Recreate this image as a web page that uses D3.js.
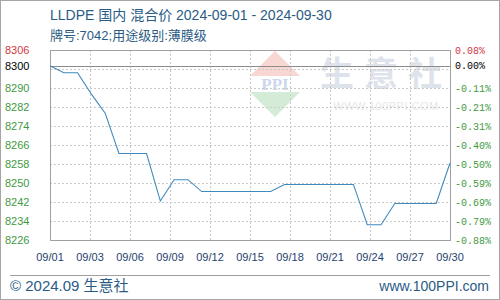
<!DOCTYPE html>
<html>
<head>
<meta charset="utf-8">
<script src="https://cdn.jsdelivr.net/npm/d3@7"></script>
<style>
  html, body { margin: 0; padding: 0; background: #fff; }
  svg { display: block; }
</style>
</head>
<body>
<div id="chart"></div>
<script>
// daily LLDPE price, 2024-09-01 .. 2024-09-30
const days = ['09/01','09/02','09/03','09/04','09/05','09/06','09/07','09/08','09/09','09/10',
  '09/11','09/12','09/13','09/14','09/15','09/16','09/17','09/18','09/19','09/20',
  '09/21','09/22','09/23','09/24','09/25','09/26','09/27','09/28','09/29','09/30'];
const prices = [8300, 8297, 8297, 8288, 8280, 8263, 8263, 8263, 8243, 8252,
  8252, 8247, 8247, 8247, 8247, 8247, 8247, 8250, 8250, 8250,
  8250, 8250, 8250, 8233, 8233, 8242, 8242, 8242, 8242, 8259];

const basePrice = 8300;
const xTickLabels = ['09/01','09/03','09/06','09/09','09/12','09/15','09/18','09/21','09/24','09/27','09/30'];
const yGridValues = [8298.6, 8290.6, 8282.6, 8274.6, 8266.6, 8258.6, 8250.6, 8242.6, 8234.6];
const leftTickValues = [8306.6, 8300, 8290.6, 8282.6, 8274.6, 8266.6, 8258.6, 8250.6, 8242.6, 8234.6, 8226.6];
const leftTickLabels = ['8306','8300','8290','8282','8274','8266','8258','8250','8242','8234','8226'];
const rightTickLabels = ['0.08%','0.00%','-0.11%','-0.21%','-0.31%','-0.40%','-0.50%','-0.59%','-0.69%','-0.79%','-0.88%'];

const width = 500, height = 300;
const pLeft = 50, pRight = 450, pTop = 50, pBottom = 240;

const svg = d3.select('#chart').append('svg').attr('width', width).attr('height', height);
const latin = '"Liberation Sans", "Noto Sans CJK SC", sans-serif';

svg.append('rect').attr('x', 0.5).attr('y', 0.5).attr('width', width - 1).attr('height', height - 1)
  .attr('fill', '#fff').attr('stroke', '#a6a6a6');

const x = d3.scalePoint().domain(days).range([pLeft, pRight]);
const xt = d3.scalePoint().domain(xTickLabels).range([pLeft, pRight]);
const y = d3.scaleLinear().domain([8226.6, 8306.6]).range([pBottom, pTop]);

// titles
svg.append('text').attr('x', 50).attr('y', 20)
  .style('font-family', latin).style('font-size', '14px').attr('fill', '#2a5b85')
  .text('LLDPE 国内 混合价 2024-09-01 - 2024-09-30');
svg.append('text').attr('x', 50).attr('y', 40)
  .style('font-family', latin).style('font-size', '13px').attr('fill', '#2a5b85')
  .text('牌号:7042;用途级别:薄膜级');

// --- watermark ---
const wm = svg.append('g').attr('opacity', 0.45);
wm.append('path').attr('d', 'M275,51 L300,76 L250,76 Z').attr('fill', '#f0a79c');
wm.append('path').attr('d', 'M250,92 L300,92 L275,117 Z').attr('fill', '#9fd3a8');
wm.append('text').attr('x', 275).attr('y', 90).attr('text-anchor', 'middle')
  .style('font-family', '"Liberation Serif", serif').style('font-size', '17px').style('font-weight', 'bold')
  .attr('fill', '#8fa7d8').text('PPI');
wm.append('text').attr('x', 386).attr('y', 86).attr('text-anchor', 'middle')
  .style('font-family', '"Noto Sans CJK SC", sans-serif').style('font-size', '34px').style('font-weight', 'bold')
  .style('letter-spacing', '10px').attr('fill', '#b8c3d3').text('生意社');
wm.append('text').attr('x', 386).attr('y', 110).attr('text-anchor', 'middle')
  .style('font-family', latin).style('font-size', '11px').style('letter-spacing', '0.5px')
  .attr('fill', '#c8c8c8').text('WWW.100PPI.COM');

// grid
svg.append('g').selectAll('line').data(yGridValues).enter().append('line')
  .attr('x1', pLeft).attr('x2', pRight)
  .attr('y1', d => Math.round(y(d)) + 0.5).attr('y2', d => Math.round(y(d)) + 0.5)
  .attr('stroke', '#c8c8c8').attr('stroke-dasharray', '2,2');
svg.append('g').selectAll('line').data(xTickLabels.slice(1, -1)).enter().append('line')
  .attr('x1', d => Math.round(xt(d)) + 0.5).attr('x2', d => Math.round(xt(d)) + 0.5)
  .attr('y1', pTop).attr('y2', pBottom)
  .attr('stroke', '#c8c8c8').attr('stroke-dasharray', '2,2');

// frame + base line
svg.append('rect').attr('x', pLeft + 0.5).attr('y', pTop + 0.5).attr('width', pRight - pLeft).attr('height', pBottom - pTop)
  .attr('fill', 'none').attr('stroke', '#a0a0a0');
svg.append('line').attr('x1', pLeft).attr('x2', pRight)
  .attr('y1', Math.round(y(basePrice)) + 0.5).attr('y2', Math.round(y(basePrice)) + 0.5)
  .attr('stroke', '#8c8c8c');

// price line
const line = d3.line().x((d, i) => x(days[i])).y(d => y(d));
svg.append('path').datum(prices).attr('d', line)
  .attr('fill', 'none').attr('stroke', '#3f8abf').attr('stroke-width', 1.1);

// left axis labels
svg.append('g').selectAll('text').data(leftTickValues).enter().append('text')
  .attr('x', 5).attr('y', d => y(d)).attr('dy', '0.35em')
  .style('font-family', latin).style('font-size', '11px')
  .attr('fill', (d, i) => i === 0 ? '#d2393f' : i === 1 ? '#000' : '#3f9a3f')
  .text((d, i) => leftTickLabels[i]);

// right axis labels
svg.append('g').selectAll('text').data(leftTickValues).enter().append('text')
  .attr('x', 455).attr('y', d => y(d)).attr('dy', '0.35em')
  .style('font-family', '"Liberation Mono", monospace').style('font-size', '10px')
  .attr('fill', (d, i) => i === 0 ? '#d2393f' : i === 1 ? '#000' : '#3f9a3f')
  .text((d, i) => rightTickLabels[i]);

// x axis labels
svg.append('g').selectAll('text').data(xTickLabels).enter().append('text')
  .attr('x', d => xt(d)).attr('y', 261).attr('text-anchor', 'middle')
  .style('font-family', latin).style('font-size', '11px').attr('fill', '#1f3f6e')
  .text(d => d);

// footer
svg.append('line').attr('x1', 10).attr('x2', 490).attr('y1', 275.5).attr('y2', 275.5).attr('stroke', '#a0a0a0');
svg.append('text').attr('x', 10).attr('y', 291)
  .style('font-family', latin).style('font-size', '15px').attr('fill', '#2a5b85')
  .text('© 2024.09 生意社');
svg.append('text').attr('x', 489).attr('y', 291).attr('text-anchor', 'end')
  .style('font-family', latin).style('font-size', '14px').attr('fill', '#2a5b85')
  .text('www.100PPI.com');
</script>
</body>
</html>
